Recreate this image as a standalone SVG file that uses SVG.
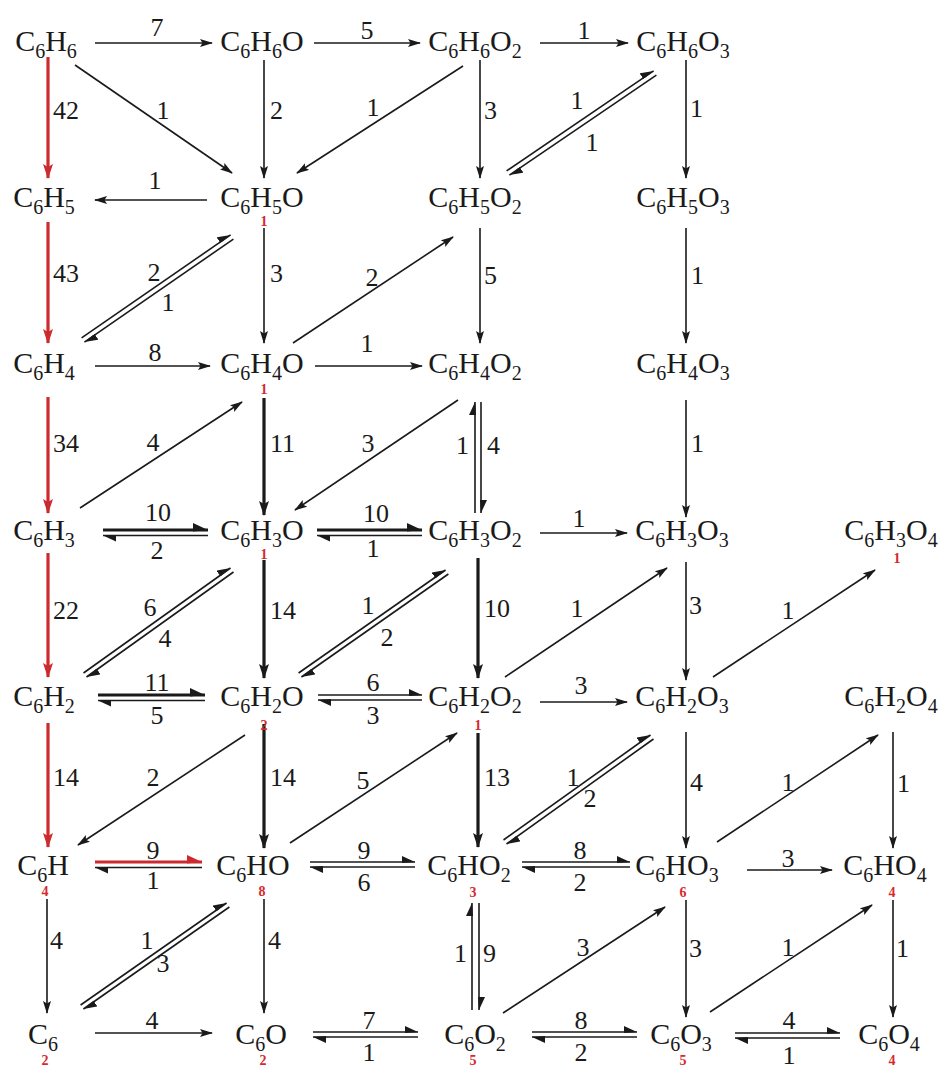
<svg xmlns="http://www.w3.org/2000/svg" width="941" height="1068" viewBox="0 0 941 1068">
<style>
.n{font-family:'Liberation Serif','DejaVu Serif',serif;font-size:30px;fill:#1a1a1a;text-anchor:middle}
.sb{font-size:20px}
.l{font-family:'Liberation Serif','DejaVu Serif',serif;font-size:26px;fill:#1a1a1a;text-anchor:middle}
.ls{text-anchor:start}
.le{text-anchor:end}
.r{font-family:'Liberation Serif','DejaVu Serif',serif;font-size:14px;font-weight:bold;fill:#d42a2e;text-anchor:middle}
.t{stroke:#1a1a1a;stroke-width:1.6;fill:none}
.k{stroke-width:3.2}
.rd{stroke:#cc2a2e;stroke-width:3.2;fill:none}
</style>
<defs>
<marker id="a" markerUnits="userSpaceOnUse" markerWidth="13" markerHeight="8" viewBox="0 0 13 8" refX="12" refY="4" orient="auto"><path d="M0,0 L13,4 L0,8 L2.5,4 Z" fill="#1a1a1a"/></marker>
<marker id="ak" markerUnits="userSpaceOnUse" markerWidth="15" markerHeight="10" viewBox="0 0 15 10" refX="14" refY="5" orient="auto"><path d="M0,0 L15,5 L0,10 L3,5 Z" fill="#1a1a1a"/></marker>
<marker id="ar" markerUnits="userSpaceOnUse" markerWidth="15" markerHeight="10" viewBox="0 0 15 10" refX="14" refY="5" orient="auto"><path d="M0,0 L15,5 L0,10 L3,5 Z" fill="#cc2a2e"/></marker>
<marker id="h" markerUnits="userSpaceOnUse" markerWidth="13" markerHeight="7" viewBox="0 0 13 7" refX="13" refY="6" orient="auto"><path d="M0,0 L13,6 L0,7 Z" fill="#1a1a1a"/></marker>
<marker id="hk" markerUnits="userSpaceOnUse" markerWidth="15" markerHeight="9" viewBox="0 0 15 9" refX="15" refY="7" orient="auto"><path d="M0,0 L15,7 L0,8.5 Z" fill="#1a1a1a"/></marker>
<marker id="hr" markerUnits="userSpaceOnUse" markerWidth="15" markerHeight="9" viewBox="0 0 15 9" refX="15" refY="7" orient="auto"><path d="M0,0 L15,7 L0,8.5 Z" fill="#cc2a2e"/></marker>
</defs>
<rect width="941" height="1068" fill="#ffffff"/>

<g id="connectors">
<line class="rd" x1="48" y1="57" x2="48" y2="178" marker-end="url(#ar)"/>
<line class="rd" x1="48" y1="222" x2="48" y2="343" marker-end="url(#ar)"/>
<line class="rd" x1="48" y1="397" x2="48" y2="513" marker-end="url(#ar)"/>
<line class="rd" x1="48" y1="553" x2="48" y2="677" marker-end="url(#ar)"/>
<line class="rd" x1="48" y1="723" x2="48" y2="847" marker-end="url(#ar)"/>
<line class="t" x1="47" y1="899" x2="47" y2="1013" marker-end="url(#a)"/>
<line class="t" x1="264" y1="60" x2="264" y2="178" marker-end="url(#a)"/>
<line class="t" x1="264" y1="228" x2="264" y2="343" marker-end="url(#a)"/>
<line class="t k" x1="264" y1="398" x2="264" y2="515" marker-end="url(#ak)"/>
<line class="t k" x1="264" y1="560" x2="264" y2="678" marker-end="url(#ak)"/>
<line class="t k" x1="264" y1="724" x2="264" y2="848" marker-end="url(#ak)"/>
<line class="t" x1="264" y1="899" x2="264" y2="1013" marker-end="url(#a)"/>
<line class="t" x1="480" y1="60" x2="480" y2="178" marker-end="url(#a)"/>
<line class="t" x1="480" y1="228" x2="480" y2="343" marker-end="url(#a)"/>
<line class="t" x1="475" y1="513" x2="475" y2="402" marker-end="url(#h)"/>
<line class="t" x1="481" y1="402" x2="481" y2="513" marker-end="url(#h)"/>
<line class="t k" x1="478" y1="558" x2="478" y2="678" marker-end="url(#ak)"/>
<line class="t k" x1="478" y1="733" x2="478" y2="847" marker-end="url(#ak)"/>
<line class="t" x1="472" y1="1010" x2="472" y2="903" marker-end="url(#h)"/>
<line class="t" x1="479" y1="903" x2="479" y2="1010" marker-end="url(#h)"/>
<line class="t" x1="686" y1="60" x2="686" y2="178" marker-end="url(#a)"/>
<line class="t" x1="686" y1="228" x2="686" y2="343" marker-end="url(#a)"/>
<line class="t" x1="686" y1="400" x2="686" y2="517" marker-end="url(#a)"/>
<line class="t" x1="686" y1="562" x2="686" y2="680" marker-end="url(#a)"/>
<line class="t" x1="686" y1="732" x2="686" y2="848" marker-end="url(#a)"/>
<line class="t" x1="686" y1="900" x2="686" y2="1017" marker-end="url(#a)"/>
<line class="t" x1="893" y1="732" x2="893" y2="848" marker-end="url(#a)"/>
<line class="t" x1="893" y1="900" x2="893" y2="1017" marker-end="url(#a)"/>
<line class="t" x1="95" y1="43" x2="212" y2="43" marker-end="url(#a)"/>
<line class="t" x1="314" y1="43" x2="420" y2="43" marker-end="url(#a)"/>
<line class="t" x1="540" y1="43" x2="628" y2="43" marker-end="url(#a)"/>
<line class="t" x1="207" y1="200" x2="95" y2="200" marker-end="url(#a)"/>
<line class="t" x1="95" y1="366" x2="210" y2="366" marker-end="url(#a)"/>
<line class="t" x1="315" y1="366" x2="422" y2="366" marker-end="url(#a)"/>
<line class="t" x1="540" y1="533" x2="627" y2="533" marker-end="url(#a)"/>
<line class="t" x1="540" y1="702" x2="627" y2="702" marker-end="url(#a)"/>
<line class="t" x1="747" y1="870" x2="832" y2="870" marker-end="url(#a)"/>
<line class="t" x1="95" y1="1033" x2="212" y2="1033" marker-end="url(#a)"/>
<line class="t k" x1="103" y1="530" x2="208" y2="530" marker-end="url(#hk)"/>
<line class="t" x1="208" y1="535.5" x2="103" y2="535.5" marker-end="url(#h)"/>
<line class="t k" x1="317" y1="530" x2="422" y2="530" marker-end="url(#hk)"/>
<line class="t" x1="422" y1="535.5" x2="317" y2="535.5" marker-end="url(#h)"/>
<line class="t k" x1="98" y1="695" x2="205" y2="695" marker-end="url(#hk)"/>
<line class="t" x1="205" y1="700.5" x2="98" y2="700.5" marker-end="url(#h)"/>
<line class="t" x1="318" y1="695" x2="422" y2="695" marker-end="url(#h)"/>
<line class="t" x1="422" y1="700" x2="318" y2="700" marker-end="url(#h)"/>
<line class="rd" x1="95" y1="862" x2="202" y2="862" marker-end="url(#hr)"/>
<line class="t" x1="202" y1="867.5" x2="95" y2="867.5" marker-end="url(#h)"/>
<line class="t" x1="310" y1="862" x2="415" y2="862" marker-end="url(#h)"/>
<line class="t" x1="415" y1="867" x2="310" y2="867" marker-end="url(#h)"/>
<line class="t" x1="522" y1="862" x2="630" y2="862" marker-end="url(#h)"/>
<line class="t" x1="630" y1="867" x2="522" y2="867" marker-end="url(#h)"/>
<line class="t" x1="313" y1="1032" x2="418" y2="1032" marker-end="url(#h)"/>
<line class="t" x1="418" y1="1037" x2="313" y2="1037" marker-end="url(#h)"/>
<line class="t" x1="532" y1="1032" x2="637" y2="1032" marker-end="url(#h)"/>
<line class="t" x1="637" y1="1037" x2="532" y2="1037" marker-end="url(#h)"/>
<line class="t" x1="735" y1="1033" x2="840" y2="1033" marker-end="url(#h)"/>
<line class="t" x1="840" y1="1038" x2="735" y2="1038" marker-end="url(#h)"/>
<line class="t" x1="75" y1="65" x2="232" y2="173" marker-end="url(#a)"/>
<line class="t" x1="463" y1="66" x2="297" y2="173" marker-end="url(#a)"/>
<line class="t" x1="293" y1="343" x2="453" y2="237" marker-end="url(#a)"/>
<line class="t" x1="80" y1="508" x2="242" y2="402" marker-end="url(#a)"/>
<line class="t" x1="458" y1="400" x2="295" y2="510" marker-end="url(#a)"/>
<line class="t" x1="505" y1="677" x2="667" y2="568" marker-end="url(#a)"/>
<line class="t" x1="713" y1="677" x2="875" y2="570" marker-end="url(#a)"/>
<line class="t" x1="245" y1="735" x2="78" y2="845" marker-end="url(#a)"/>
<line class="t" x1="290" y1="843" x2="457" y2="733" marker-end="url(#a)"/>
<line class="t" x1="717" y1="842" x2="878" y2="735" marker-end="url(#a)"/>
<line class="t" x1="503" y1="1013" x2="665" y2="907" marker-end="url(#a)"/>
<line class="t" x1="710" y1="1012" x2="872" y2="905" marker-end="url(#a)"/>
<line class="t" x1="506.6" y1="170.9" x2="653.6" y2="70.9" marker-end="url(#h)"/>
<line class="t" x1="656.4" y1="75.1" x2="509.4" y2="175.1" marker-end="url(#h)"/>
<line class="t" x1="81.6" y1="337.9" x2="230.6" y2="234.9" marker-end="url(#h)"/>
<line class="t" x1="233.4" y1="239.1" x2="84.4" y2="342.1" marker-end="url(#h)"/>
<line class="t" x1="83.5" y1="673" x2="230.5" y2="568" marker-end="url(#h)"/>
<line class="t" x1="233.5" y1="572" x2="86.5" y2="677" marker-end="url(#h)"/>
<line class="t" x1="298.6" y1="673" x2="445.6" y2="570" marker-end="url(#h)"/>
<line class="t" x1="448.4" y1="574" x2="301.4" y2="677" marker-end="url(#h)"/>
<line class="t" x1="503.5" y1="840" x2="650.5" y2="735" marker-end="url(#h)"/>
<line class="t" x1="653.5" y1="739" x2="506.5" y2="844" marker-end="url(#h)"/>
<line class="t" x1="80.6" y1="1005" x2="226.6" y2="903" marker-end="url(#h)"/>
<line class="t" x1="229.4" y1="907" x2="83.4" y2="1009" marker-end="url(#h)"/>
</g>

<g id="connector-labels">
<text class="l ls" x="53" y="119">42</text>
<text class="l ls" x="53" y="282">43</text>
<text class="l ls" x="53" y="452">34</text>
<text class="l ls" x="53" y="619">22</text>
<text class="l ls" x="53" y="786">14</text>
<text class="l ls" x="50" y="949">4</text>
<text class="l ls" x="270" y="119">2</text>
<text class="l ls" x="270" y="282">3</text>
<text class="l ls" x="270" y="452">11</text>
<text class="l ls" x="270" y="619">14</text>
<text class="l ls" x="270" y="786">14</text>
<text class="l ls" x="268" y="949">4</text>
<text class="l ls" x="484" y="119">3</text>
<text class="l ls" x="484" y="284">5</text>
<text class="l le" x="469" y="454">1</text>
<text class="l ls" x="487" y="454">4</text>
<text class="l ls" x="484" y="617">10</text>
<text class="l ls" x="484" y="786">13</text>
<text class="l le" x="467" y="962">1</text>
<text class="l ls" x="483" y="962">9</text>
<text class="l ls" x="690" y="117">1</text>
<text class="l ls" x="691" y="284">1</text>
<text class="l ls" x="691" y="452">1</text>
<text class="l ls" x="689" y="614">3</text>
<text class="l ls" x="690" y="791">4</text>
<text class="l ls" x="689" y="957">3</text>
<text class="l ls" x="897" y="792">1</text>
<text class="l ls" x="896" y="957">1</text>

<text class="l" x="157" y="36">7</text>
<text class="l" x="367" y="39">5</text>
<text class="l" x="584" y="39">1</text>
<text class="l" x="155" y="189">1</text>
<text class="l" x="155" y="361">8</text>
<text class="l" x="367" y="352">1</text>
<text class="l" x="158" y="521">10</text>
<text class="l" x="157" y="559">2</text>
<text class="l" x="376" y="522">10</text>
<text class="l" x="373" y="557">1</text>
<text class="l" x="579" y="527">1</text>
<text class="l" x="157" y="691">11</text>
<text class="l" x="157" y="724">5</text>
<text class="l" x="373" y="691">6</text>
<text class="l" x="373" y="724">3</text>
<text class="l" x="581" y="694">3</text>
<text class="l" x="153" y="859">9</text>
<text class="l" x="153" y="889">1</text>
<text class="l" x="364" y="859">9</text>
<text class="l" x="364" y="891">6</text>
<text class="l" x="580" y="859">8</text>
<text class="l" x="580" y="891">2</text>
<text class="l" x="788" y="867">3</text>
<text class="l" x="152" y="1029">4</text>
<text class="l" x="369" y="1029">7</text>
<text class="l" x="369" y="1061">1</text>
<text class="l" x="581" y="1029">8</text>
<text class="l" x="581" y="1061">2</text>
<text class="l" x="789" y="1029">4</text>
<text class="l" x="789" y="1064">1</text>

<text class="l" x="163" y="119">1</text>
<text class="l" x="373" y="116">1</text>
<text class="l" x="577" y="109">1</text>
<text class="l" x="592" y="151">1</text>
<text class="l" x="154" y="281">2</text>
<text class="l" x="168" y="311">1</text>
<text class="l" x="372" y="286">2</text>
<text class="l" x="153" y="451">4</text>
<text class="l" x="368" y="452">3</text>
<text class="l" x="150" y="616">6</text>
<text class="l" x="165" y="647">4</text>
<text class="l" x="368" y="614">1</text>
<text class="l" x="387" y="646">2</text>
<text class="l" x="577" y="617">1</text>
<text class="l" x="788" y="619">1</text>
<text class="l" x="153" y="786">2</text>
<text class="l" x="363" y="789">5</text>
<text class="l" x="573" y="786">1</text>
<text class="l" x="590" y="807">2</text>
<text class="l" x="788" y="791">1</text>
<text class="l" x="147" y="949">1</text>
<text class="l" x="163" y="972">3</text>
<text class="l" x="583" y="956">3</text>
<text class="l" x="788" y="956">1</text>
</g>

<g id="n-C6H6"><text class="n" x="46" y="51">C<tspan class="sb" dy="7">6</tspan><tspan dy="-7">H</tspan><tspan class="sb" dy="7">6</tspan></text></g>
<g id="n-C6H6O"><text class="n" x="262" y="51">C<tspan class="sb" dy="7">6</tspan><tspan dy="-7">H</tspan><tspan class="sb" dy="7">6</tspan><tspan dy="-7">O</tspan></text></g>
<g id="n-C6H6O2"><text class="n" x="475" y="51">C<tspan class="sb" dy="7">6</tspan><tspan dy="-7">H</tspan><tspan class="sb" dy="7">6</tspan><tspan dy="-7">O</tspan><tspan class="sb" dy="7">2</tspan></text></g>
<g id="n-C6H6O3"><text class="n" x="683" y="51">C<tspan class="sb" dy="7">6</tspan><tspan dy="-7">H</tspan><tspan class="sb" dy="7">6</tspan><tspan dy="-7">O</tspan><tspan class="sb" dy="7">3</tspan></text></g>

<g id="n-C6H5"><text class="n" x="44" y="207">C<tspan class="sb" dy="7">6</tspan><tspan dy="-7">H</tspan><tspan class="sb" dy="7">5</tspan></text></g>
<g id="n-C6H5O"><text class="n" x="262" y="207">C<tspan class="sb" dy="7">6</tspan><tspan dy="-7">H</tspan><tspan class="sb" dy="7">5</tspan><tspan dy="-7">O</tspan></text><text class="r" x="264" y="226">1</text></g>
<g id="n-C6H5O2"><text class="n" x="475" y="207">C<tspan class="sb" dy="7">6</tspan><tspan dy="-7">H</tspan><tspan class="sb" dy="7">5</tspan><tspan dy="-7">O</tspan><tspan class="sb" dy="7">2</tspan></text></g>
<g id="n-C6H5O3"><text class="n" x="683" y="207">C<tspan class="sb" dy="7">6</tspan><tspan dy="-7">H</tspan><tspan class="sb" dy="7">5</tspan><tspan dy="-7">O</tspan><tspan class="sb" dy="7">3</tspan></text></g>

<g id="n-C6H4"><text class="n" x="44" y="373">C<tspan class="sb" dy="7">6</tspan><tspan dy="-7">H</tspan><tspan class="sb" dy="7">4</tspan></text></g>
<g id="n-C6H4O"><text class="n" x="262" y="373">C<tspan class="sb" dy="7">6</tspan><tspan dy="-7">H</tspan><tspan class="sb" dy="7">4</tspan><tspan dy="-7">O</tspan></text><text class="r" x="264" y="394">1</text></g>
<g id="n-C6H4O2"><text class="n" x="475" y="373">C<tspan class="sb" dy="7">6</tspan><tspan dy="-7">H</tspan><tspan class="sb" dy="7">4</tspan><tspan dy="-7">O</tspan><tspan class="sb" dy="7">2</tspan></text></g>
<g id="n-C6H4O3"><text class="n" x="683" y="373">C<tspan class="sb" dy="7">6</tspan><tspan dy="-7">H</tspan><tspan class="sb" dy="7">4</tspan><tspan dy="-7">O</tspan><tspan class="sb" dy="7">3</tspan></text></g>

<g id="n-C6H3"><text class="n" x="44" y="540">C<tspan class="sb" dy="7">6</tspan><tspan dy="-7">H</tspan><tspan class="sb" dy="7">3</tspan></text></g>
<g id="n-C6H3O"><text class="n" x="262" y="540">C<tspan class="sb" dy="7">6</tspan><tspan dy="-7">H</tspan><tspan class="sb" dy="7">3</tspan><tspan dy="-7">O</tspan></text><text class="r" x="264" y="559">1</text></g>
<g id="n-C6H3O2"><text class="n" x="475" y="540">C<tspan class="sb" dy="7">6</tspan><tspan dy="-7">H</tspan><tspan class="sb" dy="7">3</tspan><tspan dy="-7">O</tspan><tspan class="sb" dy="7">2</tspan></text></g>
<g id="n-C6H3O3"><text class="n" x="682" y="540">C<tspan class="sb" dy="7">6</tspan><tspan dy="-7">H</tspan><tspan class="sb" dy="7">3</tspan><tspan dy="-7">O</tspan><tspan class="sb" dy="7">3</tspan></text></g>
<g id="n-C6H3O4"><text class="n" x="891" y="540">C<tspan class="sb" dy="7">6</tspan><tspan dy="-7">H</tspan><tspan class="sb" dy="7">3</tspan><tspan dy="-7">O</tspan><tspan class="sb" dy="7">4</tspan></text><text class="r" x="897" y="563">1</text></g>

<g id="n-C6H2"><text class="n" x="44" y="706">C<tspan class="sb" dy="7">6</tspan><tspan dy="-7">H</tspan><tspan class="sb" dy="7">2</tspan></text></g>
<g id="n-C6H2O"><text class="n" x="262" y="706">C<tspan class="sb" dy="7">6</tspan><tspan dy="-7">H</tspan><tspan class="sb" dy="7">2</tspan><tspan dy="-7">O</tspan></text><text class="r" x="264" y="730">2</text></g>
<g id="n-C6H2O2"><text class="n" x="475" y="706">C<tspan class="sb" dy="7">6</tspan><tspan dy="-7">H</tspan><tspan class="sb" dy="7">2</tspan><tspan dy="-7">O</tspan><tspan class="sb" dy="7">2</tspan></text><text class="r" x="478" y="730">1</text></g>
<g id="n-C6H2O3"><text class="n" x="682" y="706">C<tspan class="sb" dy="7">6</tspan><tspan dy="-7">H</tspan><tspan class="sb" dy="7">2</tspan><tspan dy="-7">O</tspan><tspan class="sb" dy="7">3</tspan></text></g>
<g id="n-C6H2O4"><text class="n" x="891" y="706">C<tspan class="sb" dy="7">6</tspan><tspan dy="-7">H</tspan><tspan class="sb" dy="7">2</tspan><tspan dy="-7">O</tspan><tspan class="sb" dy="7">4</tspan></text></g>

<g id="n-C6H"><text class="n" x="43" y="875">C<tspan class="sb" dy="7">6</tspan><tspan dy="-7">H</tspan></text><text class="r" x="45" y="896">4</text></g>
<g id="n-C6HO"><text class="n" x="253" y="875">C<tspan class="sb" dy="7">6</tspan><tspan dy="-7">HO</tspan></text><text class="r" x="262" y="896">8</text></g>
<g id="n-C6HO2"><text class="n" x="469" y="875">C<tspan class="sb" dy="7">6</tspan><tspan dy="-7">HO</tspan><tspan class="sb" dy="7">2</tspan></text><text class="r" x="473" y="897">3</text></g>
<g id="n-C6HO3"><text class="n" x="677" y="875">C<tspan class="sb" dy="7">6</tspan><tspan dy="-7">HO</tspan><tspan class="sb" dy="7">3</tspan></text><text class="r" x="683" y="897">6</text></g>
<g id="n-C6HO4"><text class="n" x="885" y="875">C<tspan class="sb" dy="7">6</tspan><tspan dy="-7">HO</tspan><tspan class="sb" dy="7">4</tspan></text><text class="r" x="892" y="897">4</text></g>

<g id="n-C6"><text class="n" x="43" y="1044">C<tspan class="sb" dy="7">6</tspan></text><text class="r" x="45" y="1065">2</text></g>
<g id="n-C6O"><text class="n" x="261" y="1044">C<tspan class="sb" dy="7">6</tspan><tspan dy="-7">O</tspan></text><text class="r" x="263" y="1065">2</text></g>
<g id="n-C6O2"><text class="n" x="475" y="1044">C<tspan class="sb" dy="7">6</tspan><tspan dy="-7">O</tspan><tspan class="sb" dy="7">2</tspan></text><text class="r" x="473" y="1065">5</text></g>
<g id="n-C6O3"><text class="n" x="681" y="1044">C<tspan class="sb" dy="7">6</tspan><tspan dy="-7">O</tspan><tspan class="sb" dy="7">3</tspan></text><text class="r" x="683" y="1065">5</text></g>
<g id="n-C6O4"><text class="n" x="889" y="1044">C<tspan class="sb" dy="7">6</tspan><tspan dy="-7">O</tspan><tspan class="sb" dy="7">4</tspan></text><text class="r" x="892" y="1065">4</text></g>
</svg>
